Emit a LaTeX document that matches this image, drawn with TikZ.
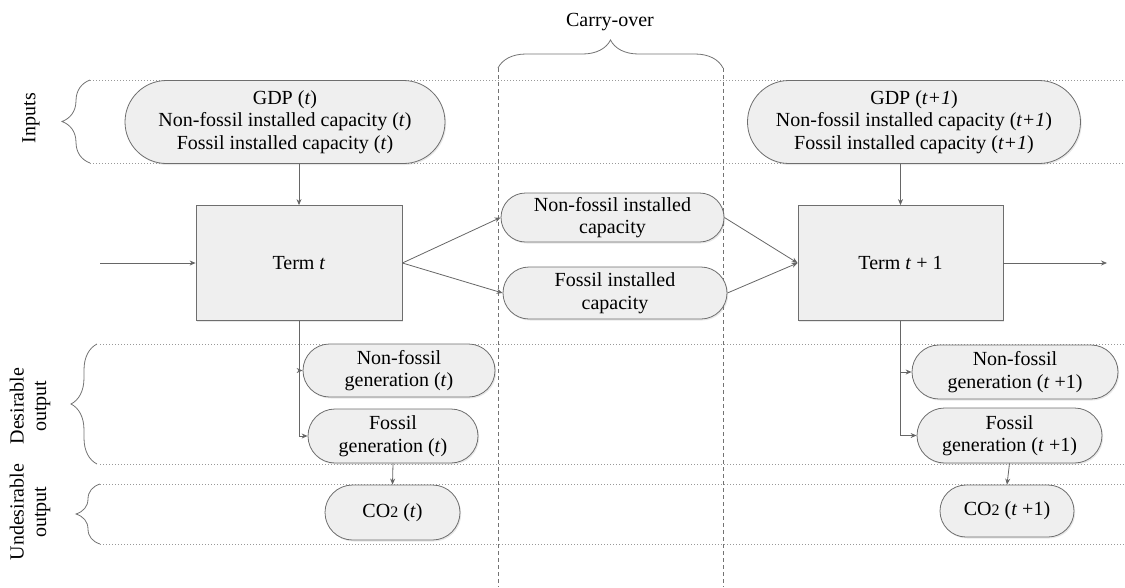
\documentclass[tikz,border=0pt]{standalone}
\usepackage{fontspec}
\setmainfont{Liberation Serif}
\usetikzlibrary{shapes.misc,arrows.meta,decorations.pathreplacing,shadows}
\definecolor{bordc}{HTML}{6E6E6E}
\definecolor{fillc}{HTML}{EFEFEF}
\definecolor{linec}{HTML}{666666}
\begin{document}
\begin{tikzpicture}[x=1pt,y=-1pt,
  every node/.style={font=\fontsize{20}{22.5}\selectfont},
  pill/.style={rounded rectangle, draw=bordc, fill=fillc, align=center, inner sep=0pt, line width=0.8pt,
     drop shadow={opacity=0.18, shadow xshift=1.2pt, shadow yshift=-1.5pt}},
  termbox/.style={rectangle, draw=bordc, fill=fillc, align=center, inner sep=0pt, line width=0.8pt,
     drop shadow={opacity=0.18, shadow xshift=1.2pt, shadow yshift=-1.5pt}},
  arr/.style={draw=linec, line width=0.8pt, -{Stealth[length=6pt,width=5pt]}},
  conn/.style={draw=linec, line width=0.8pt},
  dotline/.style={draw=gray!80, line width=0.7pt, dash pattern=on 0.8pt off 2.2pt},
  dashline/.style={draw=gray!90!black, line width=0.7pt, dash pattern=on 4pt off 3pt},
  bracestyle/.style={draw=gray!90!black, line width=0.8pt, decorate},
  sidelabel/.style={rotate=90, align=center}
]
\useasboundingbox (0,0) rectangle (1125,587);

% dotted row lines
\coordinate (d1a) at (90,80);   \coordinate (d1b) at (1125,80);
\coordinate (d2a) at (90,163);  \coordinate (d2b) at (1125,163);
\coordinate (d3a) at (100,344); \coordinate (d3b) at (1125,344);
\coordinate (d4a) at (100,464); \coordinate (d4b) at (1125,464);
\coordinate (d5a) at (100,484); \coordinate (d5b) at (1125,484);
\coordinate (d6a) at (100,544); \coordinate (d6b) at (1125,544);
\foreach \i in {1,...,6} \draw[dotline] (d\i a) -- (d\i b);

% carry-over dashed lines
\coordinate (c1t) at (498,68); \coordinate (c1b) at (498,587);
\coordinate (c2t) at (723,68); \coordinate (c2b) at (723,587);
\draw[dashline] (c1t) -- (c1b);
\draw[dashline] (c2t) -- (c2b);

% braces
\draw[bracestyle, decoration={brace, amplitude=28pt}] (c1t) -- (c2t);
\node (carry) at (610,22) {Carry-over};

\coordinate (bi1) at (90,163); \coordinate (bi2) at (90,80);
\draw[bracestyle, decoration={brace, amplitude=28pt}] (bi1) -- (bi2);
\node[sidelabel] (linputs) at (31,118) {Inputs};

\coordinate (bd1) at (97,464); \coordinate (bd2) at (97,344);
\draw[bracestyle, decoration={brace, amplitude=26pt}] (bd1) -- (bd2);
\node[sidelabel] (ldes) at (30,406) {Desirable\\output};

\coordinate (bu1) at (100,544); \coordinate (bu2) at (100,484);
\draw[bracestyle, decoration={brace, amplitude=24pt}] (bu1) -- (bu2);
\node[sidelabel] (lund) at (30,512) {Undesirable\\output};

% input boxes
\node[pill, minimum width=320pt, minimum height=83pt] (inL) at (285,122)
  {GDP (\textit{t})\\Non-fossil installed capacity (\textit{t})\\Fossil installed capacity (\textit{t})};
\node[pill, minimum width=333pt, minimum height=83pt] (inR) at (914,122)
  {GDP (\textit{t+1})\\Non-fossil installed capacity (\textit{t+1})\\Fossil installed capacity (\textit{t+1})};

% term boxes
\node[termbox, minimum width=206pt, minimum height=115pt] (termL) at (299,263) {Term \textit{t}};
\node[termbox, minimum width=205pt, minimum height=115pt] (termR) at (900.5,263) {Term \textit{t} + 1};

% carry-over nodes
\node[pill, minimum width=223pt, minimum height=49pt] (nfcap) at (612.5,217.5) {Non-fossil installed\\capacity};
\node[pill, minimum width=224pt, minimum height=52pt] (fcap) at (615,293) {Fossil installed\\capacity};

% outputs left
\node[pill, minimum width=192pt, minimum height=53pt] (nfgenL) at (399,370.5) {Non-fossil\\generation (\textit{t})};
\node[pill, minimum width=170pt, minimum height=54pt] (fgenL) at (393,436) {Fossil\\generation (\textit{t})};
\node[pill, minimum width=135pt, minimum height=55pt] (co2L) at (392.5,512.5) {CO{\fontsize{16}{16}\selectfont 2} (\textit{t})};

% outputs right
\node[pill, minimum width=206pt, minimum height=54pt] (nfgenR) at (1015,372) {Non-fossil\\generation (\textit{t} +1)};
\node[pill, minimum width=185pt, minimum height=55pt] (fgenR) at (1009.5,435.5) {Fossil\\generation (\textit{t} +1)};
\node[pill, minimum width=134pt, minimum height=52pt] (co2R) at (1007,511) {CO{\fontsize{16}{16}\selectfont 2} (\textit{t} +1)};

% connectors
\coordinate (inStart) at (100,263);
\coordinate (outEnd) at (1107,263);
\draw[arr] (inStart) -- (termL.west);
\draw[arr] (termR.east) -- (outEnd);
\draw[arr] (termL.north |- inL.south) -- (termL.north);
\draw[arr] (termR.north |- inR.south) -- (termR.north);
\draw[arr] (termL.east) -- (nfcap.west);
\draw[arr] (termL.east) -- (fcap.west);
\draw[arr] (nfcap.east) -- (termR.west);
\draw[arr] (fcap.east) -- (termR.west);

\draw[arr] (termL.south) -- (termL.south |- nfgenL.west) -- (nfgenL.west);
\draw[arr] (termL.south) -- (termL.south |- fgenL.west) -- (fgenL.west);
\draw[arr] (fgenL.south) -- (co2L.north);

\draw[arr] (termR.south) -- (termR.south |- nfgenR.west) -- (nfgenR.west);
\draw[arr] (termR.south) -- (termR.south |- fgenR.west) -- (fgenR.west);
\draw[arr] (fgenR.south) -- (co2R.north);
\end{tikzpicture}
\end{document}
